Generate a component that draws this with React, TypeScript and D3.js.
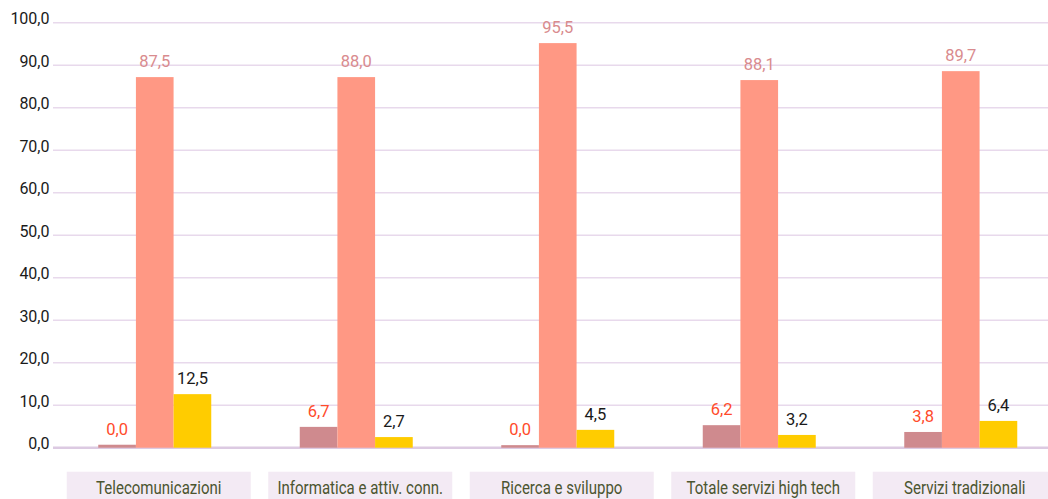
import React from "react";
import * as d3 from "d3";

const categories = [
  "Telecomunicazioni",
  "Informatica e attiv. conn.",
  "Ricerca e sviluppo",
  "Totale servizi high tech",
  "Servizi tradizionali",
];
const seriesNames = ["s1", "s2", "s3"];
const series1Values = [0.7, 4.9, 0.6, 5.3, 3.7];
const series1Labels = ["0,0", "6,7", "0,0", "6,2", "3,8"];
const series2Values = [87.2, 87.2, 95.2, 86.5, 88.6];
const series2Labels = ["87,5", "88,0", "95,5", "88,1", "89,7"];
const series3Values = [12.6, 2.5, 4.2, 3.0, 6.3];
const series3Labels = ["12,5", "2,7", "4,5", "3,2", "6,4"];
const yTicks = [0, 10, 20, 30, 40, 50, 60, 70, 80, 90, 100];

const W = 1048;
const H = 499;
const left = 53;
const baseY = 447.7;
const topY = 22.7;

const barColors = ["#CF8A8E", "#FF9884", "#FFCC00"];
const labelColors = ["#FF4B2B", "#D98B8E", "#1a1a1a"];

export default function App() {
  const y = d3.scaleLinear().domain([0, 100]).range([baseY, topY]);
  const x = d3
    .scaleBand<string>()
    .domain(categories)
    .range([left + 1, left + 1 + 5 * 201.5])
    .paddingInner(0)
    .paddingOuter(0);
  const groupW = 113;
  const inner = d3
    .scaleBand<string>()
    .domain(seriesNames)
    .range([0, groupW])
    .padding(0);

  const vals = [series1Values, series2Values, series3Values];
  const labs = [series1Labels, series2Labels, series3Labels];
  const fmt = (v: number) => d3.format(".1f")(v).replace(".", ",");

  return (
    <svg
      width={W}
      height={H}
      style={{ position: "absolute", left: 0, top: 0, display: "block", background: "#fff" }}
    >
      {yTicks.map((t) => (
        <g key={t}>
          <line
            x1={left}
            x2={W}
            y1={y(t)}
            y2={y(t)}
            stroke={t === 0 ? "#DCCAE2" : "#E8D9EC"}
            strokeWidth={t === 0 ? 2.5 : 1.5}
          />
          <text
            x={49.5}
            y={y(t) + 1.5}
            textAnchor="end"
            fontFamily="Roboto, 'Noto Sans', sans-serif"
            fontSize={16}
            fill="#1a1a1a"
          >
            {fmt(t)}
          </text>
        </g>
      ))}
      {categories.map((c, i) => {
        const cx = (x(c) as number) + x.bandwidth() / 2;
        const gx = cx - groupW / 2;
        return (
          <g key={c}>
            {vals.map((arr, s) => {
              const bx = gx + (inner(seriesNames[s]) as number);
              const by = y(arr[i]);
              return (
                <g key={s}>
                  <rect
                    x={bx}
                    y={by}
                    width={inner.bandwidth()}
                    height={baseY - by}
                    fill={barColors[s]}
                  />
                  <text
                    x={bx + inner.bandwidth() / 2}
                    y={by - 10}
                    textAnchor="middle"
                    fontFamily="Roboto, 'Noto Sans', sans-serif"
                    fontSize={16.5}
                    fill={labelColors[s]}
                  >
                    {labs[s][i]}
                  </text>
                </g>
              );
            })}
            <rect
              x={cx + 4 - 92}
              y={471.7}
              width={184}
              height={H - 471.7}
              fill="#F3EAF4"
            />
            <g transform={`translate(${cx + 4},494) scale(0.86,1)`}>
              <text
                x={0}
                y={0}
                textAnchor="middle"
                fontFamily="Roboto, 'Noto Sans', sans-serif"
                fontSize={17.5}
                fill="#4B5530"
              >
                {c}
              </text>
            </g>
          </g>
        );
      })}
    </svg>
  );
}
